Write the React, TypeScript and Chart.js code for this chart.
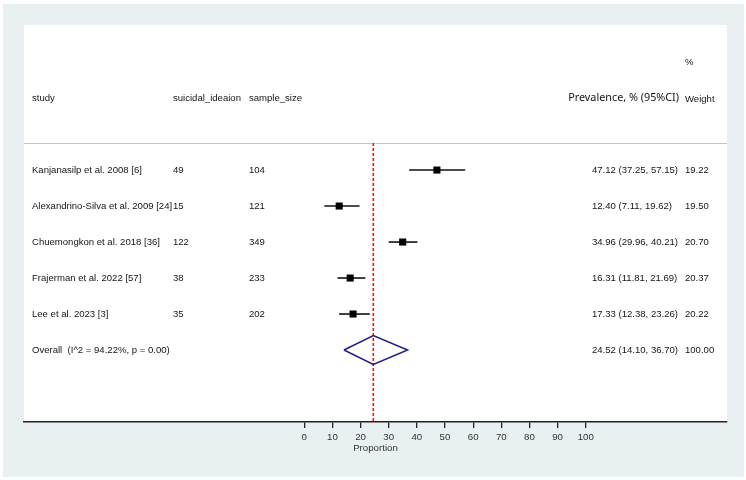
import React, { useEffect, useRef } from "react";
import { Chart, registerables } from "chart.js";

Chart.register(...registerables);

// ---- data ----
const studies = [
  "Kanjanasilp et al. 2008 [6]",
  "Alexandrino-Silva et al. 2009 [24]",
  "Chuemongkon et al. 2018 [36]",
  "Frajerman et al. 2022 [57]",
  "Lee et al. 2023 [3]",
];
const suicidalIdeation = [49, 15, 122, 38, 35];
const sampleSize = [104, 121, 349, 233, 202];
const prevalence = [47.12, 12.4, 34.96, 16.31, 17.33];
const lowerCI = [37.25, 7.11, 29.96, 11.81, 12.38];
const upperCI = [57.15, 19.62, 40.21, 21.69, 23.26];
const weights = [19.22, 19.5, 20.7, 20.37, 20.22];

const overallLabel = "Overall  (I^2 = 94.22%, p = 0.00)";
const overallEstimate = 24.52;
const overallLower = 14.1;
const overallUpper = 36.7;
const overallWeight = 100.0;

const xTicks = [0, 10, 20, 30, 40, 50, 60, 70, 80, 90, 100];
const xTitle = "Proportion";
const headers = ["study", "suicidal_ideaion", "sample_size"];
const estimateHeader = "Prevalence, % (95%CI)";
const weightHeader = ["%", "Weight"];

// ---- layout constants (positions/styles) ----
const FONT = "9.55px 'Liberation Sans', Arial, sans-serif";
const HEADER_FONT = "10.8px 'Noto Sans', 'Open Sans', sans-serif";
const TEXT_COLOR = "#141414";
const overallRow = studies.length;
const HEADER_ROW = -2;
const PCT_ROW = -3;
const SEP_ROW = -0.75;
const DIAMOND_HALF = 0.4;

const fmt = (v: number) => v.toFixed(2);

const forestPlugin = {
  id: "forestText",
  beforeDraw(chart: any) {
    const { ctx, chartArea: a } = chart;
    const yS = chart.scales.y;
    ctx.save();
    ctx.fillStyle = "#e9f0f2";
    ctx.fillRect(3, 4, chart.width - 5, chart.height - 7);
    ctx.fillStyle = "#ffffff";
    ctx.fillRect(a.left, a.top, a.right - a.left, a.bottom - a.top);
    const sy = Math.round(yS.getPixelForValue(SEP_ROW)) + 0.5;
    ctx.strokeStyle = "#c4c4c4";
    ctx.lineWidth = 1;
    ctx.beginPath();
    ctx.moveTo(a.left, sy);
    ctx.lineTo(a.right, sy);
    ctx.stroke();
    ctx.restore();
  },
  afterDraw(chart: any) {
    const { ctx } = chart;
    const yS = chart.scales.y;
    ctx.save();
    ctx.fillStyle = TEXT_COLOR;
    ctx.textBaseline = "middle";
    ctx.font = FONT;
    const colStudy = 32;
    const colCases = 173;
    const colN = 249;
    const colEst = 592;
    const colW = 685;
    const hy = yS.getPixelForValue(HEADER_ROW);
    ctx.textAlign = "left";
    ctx.fillText(headers[0], colStudy, hy);
    ctx.fillText(headers[1], colCases, hy);
    ctx.fillText(headers[2], colN, hy);
    ctx.fillText(weightHeader[1], colW, hy + 1);
    ctx.fillText(weightHeader[0], colW, yS.getPixelForValue(PCT_ROW));
    ctx.font = HEADER_FONT;
    ctx.textAlign = "right";
    ctx.fillText(estimateHeader, 679, hy);
    ctx.font = FONT;
    ctx.textAlign = "left";
    studies.forEach((s, i) => {
      const y = yS.getPixelForValue(i);
      ctx.fillText(s, colStudy, y);
      ctx.fillText(String(suicidalIdeation[i]), colCases, y);
      ctx.fillText(String(sampleSize[i]), colN, y);
      ctx.fillText(`${fmt(prevalence[i])} (${fmt(lowerCI[i])}, ${fmt(upperCI[i])})`, colEst, y);
      ctx.fillText(fmt(weights[i]), colW, y);
    });
    const oy = yS.getPixelForValue(overallRow);
    ctx.fillText(overallLabel, colStudy, oy);
    ctx.fillText(`${fmt(overallEstimate)} (${fmt(overallLower)}, ${fmt(overallUpper)})`, colEst, oy);
    ctx.fillText(fmt(overallWeight), colW, oy);
    ctx.restore();
  },
};

export default function App() {
  const ref = useRef<HTMLCanvasElement>(null);
  useEffect(() => {
    if (!ref.current) return;
    const ciSets = studies.map((_, i) => ({
      type: "scatter" as const,
      data: [
        { x: lowerCI[i], y: i },
        { x: upperCI[i], y: i },
      ],
      showLine: true,
      borderColor: "#111",
      borderWidth: 1.6,
      pointRadius: 0,
      order: 1,
    }));
    const chart = new Chart(ref.current, {
      type: "scatter",
      data: {
        datasets: [
          {
            data: prevalence.map((p, i) => ({ x: p, y: i })),
            pointStyle: "rect",
            pointRadius: 5,
            backgroundColor: "#000",
            borderColor: "#000",
            borderWidth: 0,
            order: 0,
          },
          ...ciSets,
          {
            data: [
              { x: overallLower, y: overallRow },
              { x: overallEstimate, y: overallRow - DIAMOND_HALF },
              { x: overallUpper, y: overallRow },
              { x: overallEstimate, y: overallRow + DIAMOND_HALF },
              { x: overallLower, y: overallRow },
            ],
            showLine: true,
            borderColor: "#1e1e8a",
            borderWidth: 1.5,
            pointRadius: 0,
            tension: 0,
            order: 2,
          },
          {
            data: [
              { x: overallEstimate, y: SEP_ROW },
              { x: overallEstimate, y: 7 },
            ],
            showLine: true,
            borderColor: "#ff1010",
            borderWidth: 1.6,
            borderDash: [3, 2],
            pointRadius: 0,
            order: 3,
          },
        ] as any,
      },
      options: {
        animation: false,
        responsive: false,
        devicePixelRatio: 1,
        layout: { padding: { left: 24, right: 19, top: 25, bottom: 24 } },
        plugins: { legend: { display: false }, tooltip: { enabled: false } },
        scales: {
          x: {
            type: "linear",
            min: -99.6,
            max: 150.2,
            afterBuildTicks: (scale: any) => {
              scale.ticks = xTicks.map((v) => ({ value: v }));
            },
            afterFit: (scale: any) => {
              scale.height = 34;
            },
            grid: {
              display: true,
              drawOnChartArea: false,
              drawTicks: true,
              tickLength: 6,
              color: "#222",
              lineWidth: 1.3,
            },
            border: { display: true, color: "#222", width: 1.6 },
            ticks: {
              padding: 4,
              color: "#333",
              font: { family: "'Liberation Sans', Arial, sans-serif", size: 9.7 },
              maxRotation: 0,
              autoSkip: false,
            },
            title: {
              display: true,
              text: xTitle,
              color: "#333",
              font: { family: "'Liberation Sans', Arial, sans-serif", size: 9.7 },
              padding: { top: 0, bottom: 2 },
            },
          },
          y: {
            type: "linear",
            display: false,
            reverse: true,
            min: -4.03,
            max: 7,
          },
        },
      },
      plugins: [forestPlugin],
    });
    return () => chart.destroy();
  }, []);
  return (
    <div style={{ position: "absolute", left: 0, top: 0, width: 746, height: 480 }}>
      <canvas ref={ref} width={746} height={480} style={{ width: 746, height: 480 }} />
    </div>
  );
}
